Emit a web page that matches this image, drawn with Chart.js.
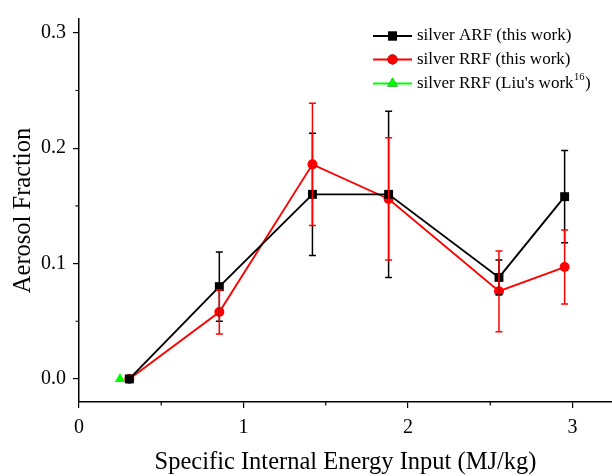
<!DOCTYPE html>
<html><head><meta charset="utf-8">
<script src="https://cdn.jsdelivr.net/npm/chart.js@4.4.0/dist/chart.umd.min.js"></script>
<style>html,body{margin:0;padding:0;background:#fff}#wrap{width:612px;height:476px}</style>
</head><body><div id="wrap"><canvas id="c" width="612" height="476"></canvas></div>
<script>
// ---- data ----
const xValues   = [0.306, 0.853, 1.419, 1.882, 2.553, 2.952];
const arfValues = [0.000, 0.080, 0.160, 0.160, 0.088, 0.158];
const arfErrors = [0.000, 0.030, 0.053, 0.072, 0.015, 0.040];
const rrfValues = [0.000, 0.058, 0.186, 0.156, 0.076, 0.097];
const rrfErrors = [0.000, 0.019, 0.053, 0.053, 0.035, 0.032];
const liuX      = [0.249];
const liuValues = [0.000];
const xTicks      = [0, 1, 2, 3];
const xMinorTicks = [0.5, 1.5, 2.5];
const yTicks      = [0.0, 0.1, 0.2, 0.3];
const yMinorTicks = [0.05, 0.15, 0.25];
const legendLabels = ["silver ARF (this work)", "silver RRF (this work)", "silver RRF (Liu's work", "16", ")"];
const xTitle = "Specific Internal Energy Input (MJ/kg)";
const yTitle = "Aerosol Fraction";

const SERIF = "'Liberation Serif', 'Times New Roman', serif";
const errorSets = [arfErrors, rrfErrors, null];

const errorBars = {
  id: 'errorBars',
  afterDatasetsDraw(chart) {
    const ctx = chart.ctx, xs = chart.scales.x, ys = chart.scales.y;
    chart.data.datasets.forEach((ds, di) => {
      const errs = errorSets[di];
      if (!errs) return;
      ctx.save();
      ctx.strokeStyle = ds.borderColor;
      ctx.lineWidth = 1.5;
      ds.data.forEach((p, i) => {
        const e = errs[i];
        if (!e) return;
        const px = xs.getPixelForValue(p.x);
        const yt = ys.getPixelForValue(p.y + e);
        const yb = ys.getPixelForValue(p.y - e);
        ctx.beginPath();
        ctx.moveTo(px, yt); ctx.lineTo(px, yb);
        ctx.moveTo(px - 3.5, yt); ctx.lineTo(px + 3.5, yt);
        ctx.moveTo(px - 3.5, yb); ctx.lineTo(px + 3.5, yb);
        ctx.stroke();
      });
      ctx.restore();
    });
  }
};

const minorTicks = {
  id: 'minorTicks',
  afterDraw(chart) {
    const ctx = chart.ctx, xs = chart.scales.x, ys = chart.scales.y, ca = chart.chartArea;
    ctx.save();
    ctx.strokeStyle = '#000';
    ctx.lineWidth = 1.2;
    ctx.beginPath();
    xMinorTicks.forEach(v => { const p = xs.getPixelForValue(v); ctx.moveTo(p, ca.bottom); ctx.lineTo(p, ca.bottom + 3.5); });
    yMinorTicks.forEach(v => { const p = ys.getPixelForValue(v); ctx.moveTo(ca.left, p); ctx.lineTo(ca.left - 3.5, p); });
    ctx.stroke();
    ctx.restore();
  }
};

const customLegend = {
  id: 'customLegend',
  afterDraw(chart) {
    const ctx = chart.ctx;
    const rows = [36, 59.5, 83.5];
    const x0 = 373, x1 = 412, tx = 417;
    const F = "17px " + SERIF;
    ctx.save();
    chart.data.datasets.forEach((ds, i) => {
      const y = rows[i];
      ctx.strokeStyle = ds.borderColor;
      ctx.lineWidth = ds.borderWidth;
      ctx.beginPath(); ctx.moveTo(x0, y); ctx.lineTo(x1, y); ctx.stroke();
      Chart.helpers.drawPoint(ctx, {pointStyle: ds.pointStyle, radius: ds.pointRadius, borderWidth: 0}, (x0 + x1) / 2, y);
      ctx.fillStyle = ds.backgroundColor;
      ctx.fill();
      ctx.fillStyle = '#000';
      ctx.textBaseline = 'middle';
      ctx.textAlign = 'left';
      ctx.font = F;
      if (i < 2) {
        ctx.fillText(legendLabels[i], tx, y);
      } else {
        ctx.fillText(legendLabels[2], tx, y);
        let w = ctx.measureText(legendLabels[2]).width;
        ctx.font = "10.5px " + SERIF;
        ctx.fillText(legendLabels[3], tx + w + 0.5, y - 6);
        const w2 = ctx.measureText(legendLabels[3]).width;
        ctx.font = F;
        ctx.fillText(legendLabels[4], tx + w + w2 + 1, y);
      }
    });
    ctx.restore();
  }
};

const pts = (xs, ys) => xs.map((x, i) => ({x: x, y: ys[i]}));

new Chart(document.getElementById('c'), {
  type: 'line',
  data: {
    datasets: [
      {label: legendLabels[0], data: pts(xValues, arfValues), borderColor: '#000000', backgroundColor: '#000000',
       borderWidth: 1.9, pointStyle: 'rect', pointRadius: 6.3, pointBorderWidth: 0, tension: 0},
      {label: legendLabels[1], data: pts(xValues, rrfValues), borderColor: '#ff0000', backgroundColor: '#ff0000',
       borderWidth: 1.9, pointStyle: 'circle', pointRadius: 5, pointBorderWidth: 0, tension: 0},
      {label: legendLabels[2] + legendLabels[3] + legendLabels[4], data: pts(liuX, liuValues), borderColor: '#00ff00', backgroundColor: '#00ff00',
       borderWidth: 1.9, pointStyle: 'triangle', pointRadius: 6, pointBorderWidth: 0, tension: 0}
    ]
  },
  options: {
    responsive: false,
    animation: false,
    devicePixelRatio: 1,
    layout: {autoPadding: false, padding: {top: 19, right: 0, left: 0, bottom: 0}},
    plugins: {legend: {display: false}, tooltip: {enabled: false}},
    scales: {
      x: {
        type: 'linear', min: 0, max: 3.24,
        afterBuildTicks: s => { s.ticks = xTicks.map(v => ({value: v})); },
        afterFit: s => { s.height = 74; s.paddingRight = 0; s.paddingLeft = 0; },
        ticks: {color: '#000', font: {family: SERIF, size: 20}, padding: 8, callback: v => String(v)},
        grid: {drawOnChartArea: false, drawTicks: true, tickLength: 6, color: '#000', lineWidth: 1.2},
        border: {display: true, color: '#000', width: 1.5},
        title: {display: true, text: xTitle, color: '#000', font: {family: SERIF, size: 24.5, lineHeight: 1.1}, padding: {top: 0, bottom: 0}}
      },
      y: {
        type: 'linear', min: -0.02, max: 0.312,
        afterBuildTicks: s => { s.ticks = yTicks.map(v => ({value: v})); },
        afterFit: s => { s.width = 79; s.paddingTop = 0; s.paddingBottom = 0; },
        ticks: {color: '#000', font: {family: SERIF, size: 20}, padding: 7, callback: v => v.toFixed(1)},
        grid: {drawOnChartArea: false, drawTicks: true, tickLength: 6, color: '#000', lineWidth: 1.2},
        border: {display: true, color: '#000', width: 1.5},
        title: {display: true, text: yTitle, color: '#000', font: {family: SERIF, size: 24.5}, padding: {top: 9, bottom: 0}}
      }
    }
  },
  plugins: [errorBars, minorTicks, customLegend]
});
</script>
</body></html>
